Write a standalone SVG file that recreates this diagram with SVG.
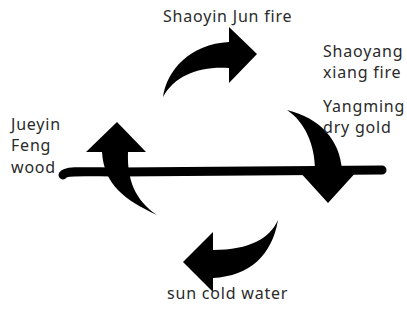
<svg xmlns="http://www.w3.org/2000/svg" width="407" height="325" viewBox="0 0 407 325">
<style>
.lbl{font-family:"Noto Sans","Open Sans","DejaVu Sans",sans-serif;font-size:16px;letter-spacing:0.8px;fill:#2a2a2a}
.arr{fill:#000;stroke:none}
.axis{fill:none;stroke:#000;stroke-width:9;stroke-linecap:round}
</style>
<rect width="407" height="325" fill="#fff"/>
<g id="connectors">
<path class="axis" d="M63,175 C66,170 90,172 120,172 L250,171 L382,170"/>
<path id="arrow-top" class="arr" d="M163,97 C167,70 190,44 229,42 L229,27 L257,54 L229,83 L229,68 C200,66 175,75 163,97 Z"/>
<path id="arrow-left" class="arr" d="M157,215 C125,200 104,185 102,152 L86,152 L117,122 L146,152 L128,152 C127,180 135,200 157,215 Z"/>
<path id="arrow-right" class="arr" d="M287,110 C305,122 315,145 315,170 L298,170 L328,203 L358,170 L342,170 C340,140 320,118 287,110 Z"/>
<path id="arrow-bottom" class="arr" d="M278,220 C270,238 250,250 213,250 L213,232 L183,262 L213,292 L213,278 C250,276 272,255 278,220 Z"/>
</g>
<g id="shaoyin"><text class="lbl" x="163" y="22">Shaoyin Jun fire</text></g>
<g id="shaoyang"><text class="lbl" x="323" y="57">Shaoyang</text><text class="lbl" x="323" y="78">xiang fire</text></g>
<g id="yangming"><text class="lbl" x="323" y="112">Yangming</text><text class="lbl" x="323" y="133">dry gold</text></g>
<g id="jueyin"><text class="lbl" x="11" y="130">Jueyin</text><text class="lbl" x="11" y="151">Feng</text><text class="lbl" x="11" y="173">wood</text></g>
<g id="sun"><text class="lbl" x="167" y="299">sun cold water</text></g>
</svg>
